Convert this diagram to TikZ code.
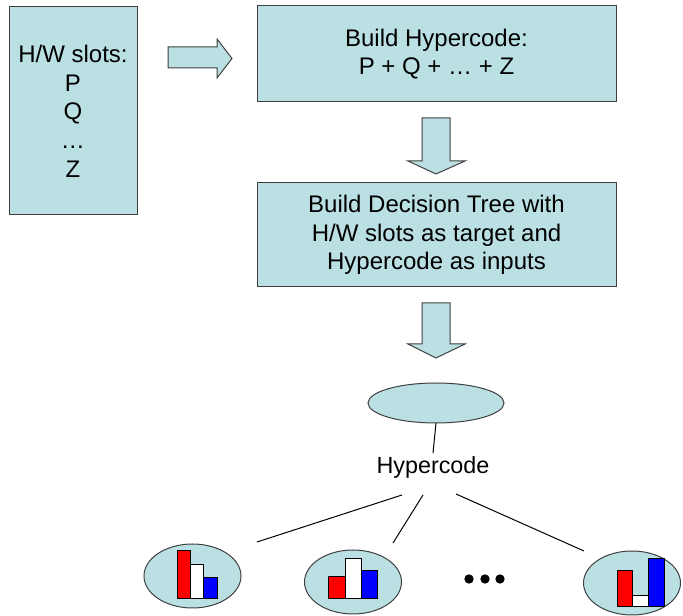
\documentclass[tikz,border=0pt]{standalone}
\usepackage{fontspec}
\usetikzlibrary{shapes.geometric}
\setmainfont{Liberation Sans}
\definecolor{boxfill}{HTML}{BBE0E3}
\definecolor{linegray}{HTML}{404040}
\begin{document}
\begin{tikzpicture}[
    x=0.75pt, y=-0.75pt,
    every node/.style={
        align=center,
        font=\fontsize{18pt}{21.5pt}\selectfont
    },
    box/.style={
        draw=linegray,
        fill=boxfill,
        line width=0.75pt,
        inner sep=0pt,
        outer sep=0pt
    },
    oval/.style={
        box,
        ellipse
    },
    blockarrow/.style={draw=linegray, fill=boxfill, line width=0.75pt},
    bar/.style={draw=black, line width=0.75pt},
    fanline/.style={draw=black, line width=0.75pt}
]
\useasboundingbox (0,0) rectangle (683,616);

% Boxes
\node[box, minimum width=96pt, minimum height=156pt] (slots) at (73,111)
{H/W slots:\\
P\\
Q\\
\dots\\
Z};

\node[box, minimum width=269.25pt, minimum height=72pt] (hypercode) at (436.5,54)
{Build Hypercode:\\
P + Q + \dots{} + Z};

\node[box, minimum width=269.25pt, minimum height=78pt] (tree) at (436.5,235)
{Build Decision Tree with\\
H/W slots as target and\\
Hypercode as inputs};

% Block arrows
\path[blockarrow] (168,47) -- (217,47) -- (217,39) -- (232,58.5)
    -- (217,78) -- (217,68) -- (168,68) -- cycle;
\path[blockarrow] (422,118) -- (450,118) -- (450,161) -- (465,161)
    -- (436,174) -- (408,161) -- (422,161) -- cycle;
\path[blockarrow] (422,303) -- (450,303) -- (450,344) -- (465,344)
    -- (436,358) -- (408,344) -- (422,344) -- cycle;

% Tree
\node[oval, minimum width=102pt, minimum height=30pt] (root) at (436,403) {};
\node[inner sep=2pt, font=\fontsize{17.5pt}{21pt}\selectfont] (split) at (433,467) {Hypercode};
\draw[fanline] (root.south) -- (split.north);

\node[oval, minimum width=72.75pt, minimum height=48pt] (leafa) at (192.5,576) {};
\node[oval, minimum width=72.75pt, minimum height=48pt] (leafb) at (353,582) {};
\node[oval, minimum width=72.75pt, minimum height=48pt] (leafz) at (632,583) {};

% Branches
\coordinate (froma) at (402,495);
\coordinate (fromb) at (423,495);
\coordinate (fromz) at (456,494);
\coordinate (toa) at (257,542);
\coordinate (tob) at (393,543);
\coordinate (toz) at (584,551);
\draw[fanline] (froma) -- (toa);
\draw[fanline] (fromb) -- (tob);
\draw[fanline] (fromz) -- (toz);

% Bar charts
\filldraw[bar, fill=red]   (177,551) rectangle (190,599);
\filldraw[bar, fill=white] (190,565) rectangle (203,599);
\filldraw[bar, fill=blue]  (203,578) rectangle (217,599);

\filldraw[bar, fill=red]   (328,577) rectangle (345,599);
\filldraw[bar, fill=white] (345,559) rectangle (361,599);
\filldraw[bar, fill=blue]  (361,571) rectangle (377,599);

\filldraw[bar, fill=red]   (617,571) rectangle (632,607);
\filldraw[bar, fill=white] (632,596) rectangle (648,607);
\filldraw[bar, fill=blue]  (648,559) rectangle (664,607);

% More leaves
\foreach \x in {469,485,500}
    \fill (\x,579) circle (3.5pt);

\end{tikzpicture}
\end{document}
